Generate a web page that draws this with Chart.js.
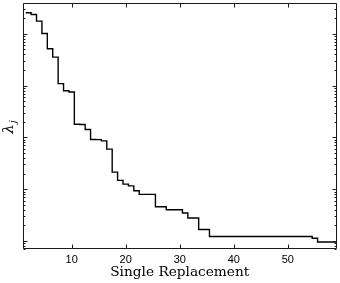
<!DOCTYPE html>
<html>
<head>
<meta charset="utf-8">
<script src="https://cdn.jsdelivr.net/npm/chart.js@4.4.1/dist/chart.umd.min.js"></script>
<style>
  html, body { margin: 0; padding: 0; background: #fff; }
</style>
</head>
<body>
<canvas id="lambdaChart" width="340" height="283"></canvas>
<script>
// index j of each step and the value (log axis)
const ranks = [
  1, 2, 3, 4, 5, 6, 7, 8, 9, 10,
  11, 12, 13, 14, 15, 16, 17, 18, 19, 20,
  21, 22, 23, 24, 25, 26, 27, 28, 29, 30,
  31, 32, 33, 34, 35, 36, 37, 38, 39, 40,
  41, 42, 43, 44, 45, 46, 47, 48, 49, 50,
  51, 52, 53, 54, 55, 56, 57, 58,
];
const lambdas = [
  25500, 23650, 17570, 10180, 5164, 3557, 1093, 794, 753, 179.6,
  177, 142, 91.1, 90.5, 85.7, 59.3, 21.4, 14.8, 12.5, 11.6,
  9.31, 7.94, 7.94, 7.94, 4.58, 4.58, 4.01, 4.01, 4.01, 3.46,
  2.77, 2.77, 1.67, 1.67, 1.22, 1.22, 1.22, 1.22, 1.22, 1.22,
  1.22, 1.22, 1.22, 1.22, 1.22, 1.22, 1.22, 1.22, 1.22, 1.22,
  1.22, 1.22, 1.22, 1.127, 0.957, 0.957, 0.957, 0.957,
];
const xTicks = [10, 20, 30, 40, 50];
const xRange = [1, 59];
const yRange = [0.7, 39400];

// each lambda_j is a flat step from j+0.5 to j+1.5
const points = ranks.map((j, i) => ({ x: j + 0.5, y: lambdas[i] }));
points.push({ x: ranks[ranks.length - 1] + 1.5, y: lambdas[lambdas.length - 1] });

// box round the plot, ticks pointing inwards on all four sides
const frame = {
  id: "frame",
  afterDatasetsDraw(chart) {
    const { ctx, chartArea: a } = chart;
    const x = chart.scales.x;
    const y = chart.scales.y;
    const L = Math.round(a.left) + 0.5;
    const R = Math.round(a.right) - 0.5;
    const T = Math.round(a.top) + 0.5;
    const B = Math.round(a.bottom) - 0.5;
    ctx.save();
    ctx.strokeStyle = "#1a1a1a";
    ctx.lineWidth = 1;
    ctx.beginPath();
    ctx.rect(L, T, R - L, B - T);
    xTicks.forEach((v) => {
      const px = Math.round(x.getPixelForValue(v)) + 0.5;
      ctx.moveTo(px, B); ctx.lineTo(px, B - 4);
      ctx.moveTo(px, T); ctx.lineTo(px, T + 4);
    });
    for (let e = -1; e <= 5; e++) {
      for (let m = 1; m <= 9; m++) {
        const v = m * Math.pow(10, e);
        if (v <= yRange[0] || v >= yRange[1]) continue;
        const py = Math.round(y.getPixelForValue(v)) + 0.5;
        const len = m === 1 ? 4 : 2;
        ctx.moveTo(L, py); ctx.lineTo(L + len, py);
        ctx.moveTo(R, py); ctx.lineTo(R - len, py);
      }
    }
    ctx.stroke();

    // y label: lambda with subscript j
    ctx.fillStyle = "#000";
    ctx.translate(9, (a.top + a.bottom) / 2 + 1);
    ctx.rotate(-Math.PI / 2);
    ctx.textBaseline = "alphabetic";
    ctx.font = "italic 15px 'DejaVu Serif'";
    const w = ctx.measureText("λ").width;
    ctx.fillText("λ", -w / 2 - 2, 4);
    ctx.font = "italic 10px 'DejaVu Serif'";
    ctx.fillText("j", w / 2 - 1, 7);
    ctx.restore();
  },
};

const ctx = document.getElementById("lambdaChart").getContext("2d");
new Chart(ctx, {
  type: "line",
  data: {
    datasets: [
      {
        data: points,
        borderColor: "#000",
        borderWidth: 1.4,
        pointRadius: 0,
        stepped: "before",
        fill: false,
      },
    ],
  },
  options: {
    responsive: false,
    animation: false,
    devicePixelRatio: 1,
    layout: { padding: { top: 3, right: 3.5, left: 0, bottom: 0 } },
    plugins: { legend: { display: false }, tooltip: { enabled: false } },
    scales: {
      x: {
        type: "linear",
        min: xRange[0],
        max: xRange[1],
        afterBuildTicks: (scale) => {
          scale.ticks = xTicks.map((v) => ({ value: v }));
        },
        afterFit: (scale) => {
          scale.height = 34;
        },
        grid: { display: false, drawTicks: false },
        border: { display: false },
        ticks: {
          color: "#000",
          padding: 4,
          maxRotation: 0,
          font: { family: "'Liberation Sans'", size: 11 },
        },
        title: {
          display: true,
          text: "Single Replacement",
          color: "#000",
          padding: { top: 0, bottom: 2 },
          font: { family: "'DejaVu Serif'", size: 13.7, lineHeight: 1.2 },
        },
      },
      y: {
        type: "logarithmic",
        min: yRange[0],
        max: yRange[1],
        afterFit: (scale) => {
          scale.width = 23;
        },
        grid: { display: false },
        border: { display: false },
        ticks: { display: false },
      },
    },
  },
  plugins: [frame],
});
</script>
</body>
</html>
